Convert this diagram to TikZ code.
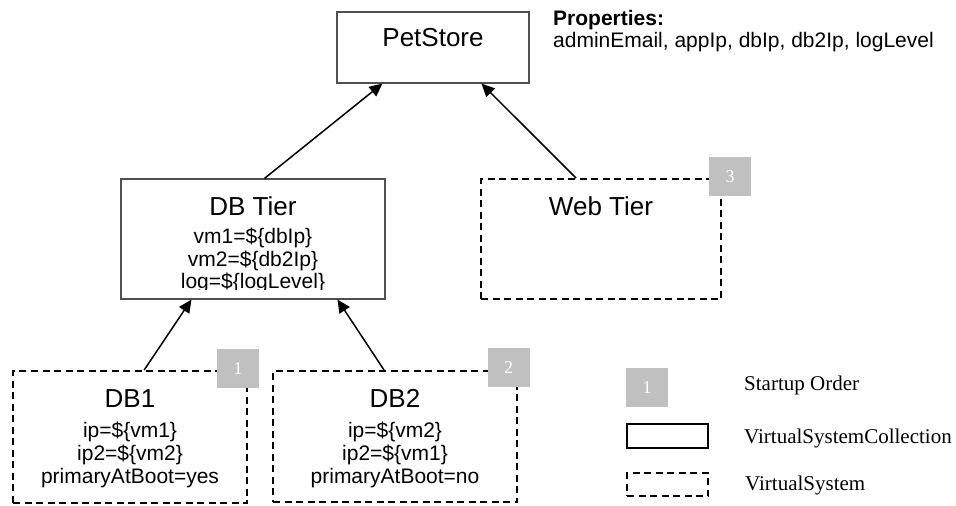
\documentclass[tikz,border=0pt]{standalone}
\usepackage{fontspec}
\setmainfont{Liberation Sans}
\newfontfamily\legendfont{Liberation Serif}
\usetikzlibrary{arrows.meta}
\definecolor{badgegray}{RGB}{192,192,192}
\definecolor{boxline}{RGB}{80,80,80}
\tikzset{
  solidbox/.style={draw=boxline, line width=1.1pt, rectangle, inner sep=0pt},
  dashbox/.style={draw=black, line width=1.8pt, rectangle, inner sep=0pt, dash pattern=on 7pt off 4.5pt},
  badge/.style={fill=badgegray, rectangle, inner sep=0pt, minimum width=42pt, minimum height=39pt, text=white, font=\legendfont\fontsize{18}{20}\selectfont},
  big/.style={anchor=base, inner sep=0pt, font=\fontsize{26}{30}\selectfont},
  small/.style={anchor=base, inner sep=0pt, font=\fontsize{21}{24}\selectfont},
  legtext/.style={anchor=base west, inner sep=0pt, font=\legendfont\fontsize{21}{24}\selectfont},
  arr/.style={draw=black, line width=1.5pt, -{Triangle[length=13pt,width=12pt]}}
}
\begin{document}
\begin{tikzpicture}[x=1pt,y=-1pt]
\useasboundingbox[fill=white] (0,0) rectangle (956,506);

% boxes
\node[solidbox, minimum width=192pt, minimum height=71pt] (pet) at (433,47.5) {};
\node[solidbox, minimum width=264pt, minimum height=120pt] (dbtier) at (253,239) {};
\node[dashbox, minimum width=240pt, minimum height=120pt] (web) at (601,239) {};
\node[dashbox, minimum width=234pt, minimum height=132pt] (db1) at (130,437) {};
\node[dashbox, minimum width=244pt, minimum height=131pt] (db2) at (395,436.5) {};

% texts
\node[big] (pettext) at (433,46) {PetStore};
\node[small, anchor=base west, font=\bfseries\fontsize{21}{24}\selectfont] (proptitle) at (553,25) {Properties:};
\node[small, anchor=base west] (proplist) at (553,47) {adminEmail, appIp, dbIp, db2Ip, logLevel};

\node[big] (dbtiertext) at (253,215) {DB Tier};
\begin{scope}
  \clip (122,180) rectangle (384,289);
  \node[small] (dbtier1) at (253,243) {vm1=\$\{dbIp\}};
  \node[small] (dbtier2) at (253,266) {vm2=\$\{db2Ip\}};
  \node[small] (dbtier3) at (253,288) {log=\$\{logLevel\}};
\end{scope}

\node[big] (webtext) at (601,215) {Web Tier};

\node[big] (db1text) at (130,407) {DB1};
\node[small] (db1a) at (130,437) {ip=\$\{vm1\}};
\node[small] (db1b) at (130,460) {ip2=\$\{vm2\}};
\node[small] (db1c) at (130,483) {primaryAtBoot=yes};

\node[big] (db2text) at (395,407) {DB2};
\node[small] (db2a) at (395,437) {ip=\$\{vm2\}};
\node[small] (db2b) at (395,460) {ip2=\$\{vm1\}};
\node[small] (db2c) at (395,483) {primaryAtBoot=no};

% badges
\node[badge] (b3) at (730,176.5) {3};
\node[badge] (b1) at (238,368.5) {1};
\node[badge] (b2) at (508.5,367.5) {2};

% arrows
\draw[arr] ([xshift=144pt]dbtier.north west) -- ([xshift=46pt]pet.south west);
\draw[arr] ([xshift=96pt]web.north west) -- ([xshift=145pt]pet.south west);
\draw[arr] ([xshift=132pt]db1.north west) -- ([xshift=71pt]dbtier.south west);
\draw[arr] ([xshift=112pt]db2.north west) -- ([xshift=217pt]dbtier.south west);

% legend
\node[badge] (legbadge) at (647,387.5) {1};
\node[draw=black, line width=2pt, rectangle, inner sep=0pt, minimum width=81pt, minimum height=24pt] (legsolid) at (667.5,436) {};
\node[dashbox, minimum width=81pt, minimum height=23pt] (legdash) at (667.5,484.5) {};
\node[legtext] (leg1) at (744,390) {Startup Order};
\node[legtext] (leg2) at (744,443) {VirtualSystemCollection};
\node[legtext] (leg3) at (745,490) {VirtualSystem};
\end{tikzpicture}
\end{document}
